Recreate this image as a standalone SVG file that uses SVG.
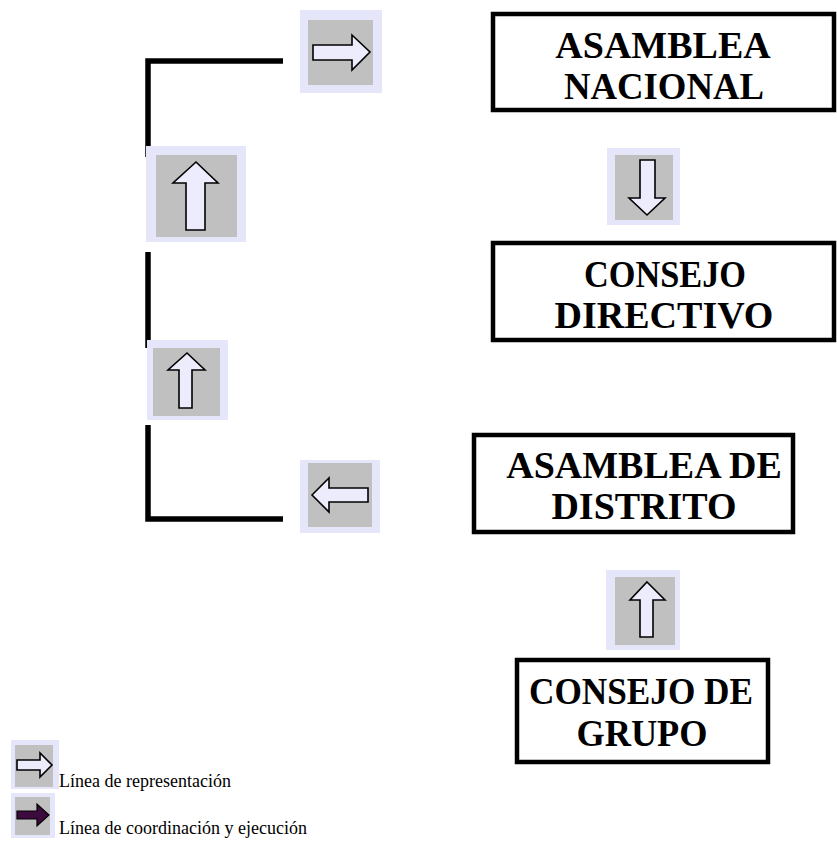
<svg xmlns="http://www.w3.org/2000/svg" width="837" height="841" viewBox="0 0 837 841">
<style>
.box{fill:#ffffff;stroke:#000000;stroke-width:4.5}
.t{font-family:'Liberation Serif','DejaVu Serif',serif;font-weight:bold;font-size:38px;fill:#000;text-anchor:middle}
.fr{fill:#e6e6fa}
.bg{fill:#c0c0c0}
.ar{fill:#ececfc;stroke:#000;stroke-width:1.6;stroke-linejoin:miter}
.ard{fill:#3d0a3d;stroke:#000;stroke-width:1.2}
.ln{fill:none;stroke:#000;stroke-width:5.5;stroke-linecap:butt;stroke-linejoin:miter}
.lg{font-family:'Liberation Serif','DejaVu Serif',serif;font-size:18px;fill:#000}
</style>
<g id="connectors">
<polyline class="ln" points="283,61 148,61 148,157"/>
<line class="ln" x1="148" y1="252" x2="148" y2="348"/>
<polyline class="ln" points="148,425 148,519 283,519"/>
</g>
<g id="asamblea-nacional">
<rect class="box" x="493" y="14" width="341" height="96"/>
<text class="t" x="663" y="58">ASAMBLEA</text>
<text class="t" x="664" y="99" textLength="200" lengthAdjust="spacingAndGlyphs">NACIONAL</text>
</g>
<g id="consejo-directivo">
<rect class="box" x="493" y="243" width="341" height="97"/>
<text class="t" x="665" y="287" textLength="162" lengthAdjust="spacingAndGlyphs">CONSEJO</text>
<text class="t" x="664" y="328">DIRECTIVO</text>
</g>
<g id="asamblea-distrito">
<rect class="box" x="474" y="435" width="319" height="97"/>
<text class="t" x="644" y="478">ASAMBLEA DE</text>
<text class="t" x="644" y="519">DISTRITO</text>
</g>
<g id="consejo-grupo">
<rect class="box" x="517" y="660" width="251" height="102"/>
<text class="t" x="641" y="704" textLength="224" lengthAdjust="spacingAndGlyphs">CONSEJO DE</text>
<text class="t" x="642" y="746" textLength="131" lengthAdjust="spacingAndGlyphs">GRUPO</text>
</g>
<g id="icon-right-top">
<rect class="fr" x="300" y="10" width="82" height="83"/>
<rect class="bg" x="308" y="20" width="65" height="65"/>
<polygon class="ar" points="313,45 352,45 352,35 370,52 352,70 352,60 313,60"/>
</g>
<g id="icon-up-1">
<rect class="fr" x="146" y="146" width="100" height="96"/>
<rect class="bg" x="156" y="155" width="81" height="82"/>
<polygon class="ar" points="196,162 218,183 205,183 205,230 186,230 186,183 173,183"/>
</g>
<g id="icon-up-2">
<rect class="fr" x="147" y="340" width="81" height="80"/>
<rect class="bg" x="153" y="348" width="67" height="68"/>
<polygon class="ar" points="187,353 205,370 192,370 192,408 179,408 179,370 168,370"/>
</g>
<g id="icon-left">
<rect class="fr" x="300" y="460" width="80" height="73"/>
<rect class="bg" x="308" y="463" width="64" height="64"/>
<polygon class="ar" points="312,495 329,478 329,488 368,488 368,502 329,502 329,512"/>
</g>
<g id="icon-down">
<rect class="fr" x="607" y="148" width="73" height="77"/>
<rect class="bg" x="615" y="155" width="58" height="65"/>
<polygon class="ar" points="640,160 655,160 655,198 665,198 647,215 629,198 640,198"/>
</g>
<g id="icon-up-3">
<rect class="fr" x="606" y="570" width="74" height="80"/>
<rect class="bg" x="615" y="577" width="60" height="68"/>
<polygon class="ar" points="647,582 665,600 653,600 653,637 640,637 640,600 630,600"/>
</g>
<g id="legend">
<rect class="fr" x="11" y="740" width="48" height="49"/>
<rect class="bg" x="15" y="745" width="38" height="42"/>
<polygon class="ar" points="17,760 40,760 40,753 52,765 40,777 40,770 17,770"/>
<text class="lg" x="59" y="787">Línea de representación</text>
<rect class="fr" x="11" y="793" width="44" height="45"/>
<rect class="bg" x="15" y="797" width="35" height="38"/>
<polygon class="ard" points="17,811 37,811 37,804 49,815 37,826 37,819 17,819"/>
<text class="lg" x="59" y="834">Línea de coordinación y ejecución</text>
</g>
</svg>
